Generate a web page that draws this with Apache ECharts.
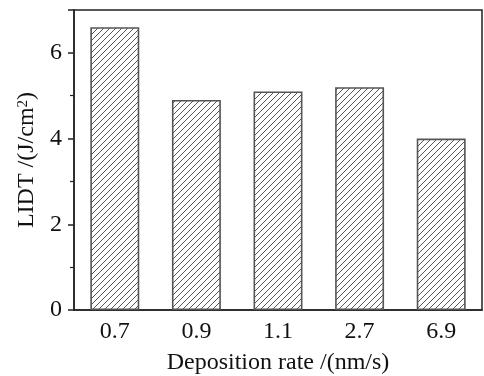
<!DOCTYPE html>
<html>
<head>
<meta charset="utf-8">
<script src="https://cdn.jsdelivr.net/npm/echarts@6/dist/echarts.min.js"></script>
<style>
  html, body { margin: 0; padding: 0; background: #fff; }
  #chart { width: 484px; height: 376px; }
</style>
</head>
<body>
<div id="chart"></div>
<script>
// Deposition rates (nm/s) and measured LIDT (J/cm^2)
const rates = ['0.7', '0.9', '1.1', '2.7', '6.9'];
const lidt = [6.6, 4.9, 5.1, 5.2, 4.0];
const yTicks = [0, 2, 4, 6];

// Diagonal hatch fill for the bars
function hatchPattern(size, color) {
  const c = document.createElement('canvas');
  c.width = size; c.height = size;
  const g = c.getContext('2d');
  g.fillStyle = '#fff';
  g.fillRect(0, 0, size, size);
  g.strokeStyle = color;
  g.lineWidth = 0.9;
  g.beginPath();
  g.moveTo(0, size); g.lineTo(size, 0);
  g.moveTo(-size / 2, size / 2); g.lineTo(size / 2, -size / 2);
  g.moveTo(size / 2, size * 1.5); g.lineTo(size * 1.5, size / 2);
  g.stroke();
  return c;
}

const font = '"Liberation Serif", "Times New Roman", serif';
const axisColor = '#222';
const textColor = '#111';
const fs = 24;

const chart = echarts.init(document.getElementById('chart'), null, { renderer: 'canvas' });
chart.setOption({
  animation: false,
  backgroundColor: '#fff',
  grid: {
    left: 74, right: 2, top: 10, bottom: 66,
    outerBoundsMode: 'none',
    containLabel: false,
    show: true, borderColor: axisColor, borderWidth: 1.5, backgroundColor: 'transparent'
  },
  xAxis: {
    type: 'category',
    data: rates,
    name: 'Deposition rate /(nm/s)',
    nameLocation: 'middle',
    nameGap: 41,
    nameTextStyle: { fontFamily: font, fontSize: fs, color: textColor },
    axisLine: { lineStyle: { color: axisColor, width: 1.5 } },
    axisTick: { alignWithLabel: true, length: 6, lineStyle: { color: axisColor, width: 1.5 } },
    axisLabel: { fontFamily: font, fontSize: fs, color: textColor, margin: 10 },
    splitLine: { show: false }
  },
  yAxis: {
    type: 'value',
    min: 0, max: 7, interval: 2,
    name: '{t|LIDT /(J/cm}{s|2}{t|)}',
    nameLocation: 'middle',
    nameGap: 34,
    nameRotate: 90,
    nameTextStyle: {
      rich: {
        t: { fontFamily: font, fontSize: fs, color: textColor },
        s: { fontFamily: font, fontSize: 15, color: textColor, verticalAlign: 'top', padding: [0, 0, 9, 0] }
      }
    },
    axisLine: { show: true, lineStyle: { color: axisColor, width: 1.5 } },
    axisTick: { show: true, length: 6, lineStyle: { color: axisColor, width: 1.5 } },
    minorTick: { show: true, splitNumber: 2, length: 4, lineStyle: { color: axisColor, width: 1.2 } },
    axisLabel: {
      fontFamily: font, fontSize: fs, color: textColor, margin: 12,
      formatter: v => (yTicks.includes(v) ? String(v) : '')
    },
    splitLine: { show: false }
  },
  series: [{
    type: 'bar',
    data: lidt,
    barWidth: '60%',
    itemStyle: {
      color: { image: hatchPattern(6, '#444'), repeat: 'repeat' },
      borderColor: '#555',
      borderWidth: 1.6
    }
  }]
});
</script>
</body>
</html>
